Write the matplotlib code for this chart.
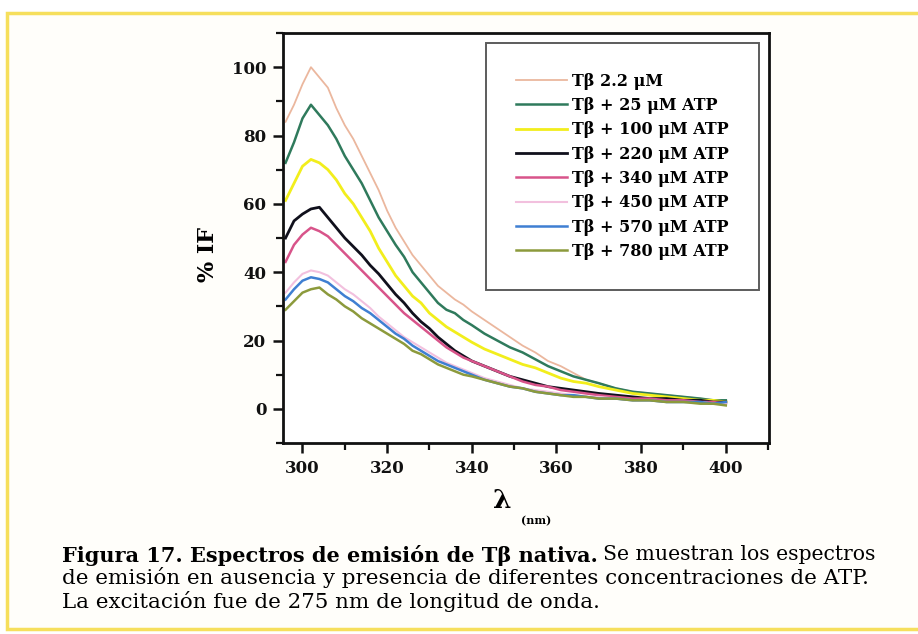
import matplotlib
matplotlib.use("Agg")
import matplotlib.pyplot as plt
from matplotlib.patches import Rectangle
from matplotlib.ticker import MultipleLocator

# Emission wavelengths (nm)
wavelength = [296, 298, 300, 302, 304, 306, 308, 310, 312, 314, 316, 318, 320,
              322, 324, 326, 328, 330, 332, 334, 336, 338, 340, 343, 346, 349,
              352, 355, 358, 361, 364, 367, 370, 374, 378, 382, 386, 390, 394,
              397, 400]

# Relative fluorescence intensity (% IF) for each ATP concentration
if_tb = [84, 89, 95, 100, 97, 94, 88, 83, 79, 74, 69, 64, 58, 53, 49, 45, 42,
         39, 36, 34, 32, 30.5, 28.5, 26, 23.5, 21, 18.5, 16.5, 14, 12.5, 10.5,
         8.5, 7.5, 6, 5, 4.5, 4, 3.5, 3, 2.5, 2]
if_atp25 = [72, 78, 85, 89, 86, 83, 79, 74, 70, 66, 61, 56, 52, 48, 44.5, 40,
            37, 34, 31, 29, 28, 26, 24.5, 22, 20, 18, 16.5, 14.5, 12.5, 11,
            9.5, 8.5, 7.5, 6, 5, 4.5, 4, 3.5, 3, 2.5, 2.5]
if_atp100 = [61, 66, 71, 73, 72, 70, 67, 63, 60, 56, 52, 47, 43, 39, 36, 33,
             31, 28, 26, 24, 22.5, 21, 19.5, 17.5, 16, 14.5, 13, 12, 10.5, 9,
             8, 7.5, 6.5, 5.5, 4.5, 4, 3.5, 3, 2.5, 2.5, 2]
if_atp220 = [50, 55, 57, 58.5, 59, 56, 53, 50, 47.5, 45, 42, 39.5, 36.5, 33.5,
             31, 28, 25.5, 23.5, 21, 19, 17, 15.5, 14, 12.5, 11, 9.5, 8.5,
             7.5, 6.5, 6, 5.5, 5, 4.5, 4, 3.5, 3, 3, 2.5, 2.5, 2, 2]
if_atp340 = [43, 48, 51, 53, 52, 50.5, 48, 45.5, 43, 40.5, 38, 35.5, 33, 30.5,
             28, 26, 24, 22, 20, 18, 16.5, 15, 14, 12.5, 11, 9.5, 8, 7, 6.5,
             5.5, 5, 4.5, 4, 3.5, 3, 3, 2.5, 2.5, 2, 2, 1.5]
if_atp450 = [34, 37, 39.5, 40.5, 40, 39, 37, 35, 33.5, 31.5, 29.5, 27, 25, 23,
             21, 19.5, 18, 16.5, 15, 13.5, 12.5, 11.5, 10.5, 9, 8, 7, 6, 5.5,
             5, 4.5, 4, 3.5, 3.5, 3, 2.5, 2.5, 2, 2, 2, 1.5, 1.5]
if_atp570 = [32, 35, 37.5, 38.5, 38, 37, 35, 33, 31.5, 29.5, 28, 26, 24, 22,
             20.5, 18.5, 17, 15.5, 14, 13, 12, 11, 10, 8.5, 7.5, 6.5, 6, 5,
             4.5, 4, 4, 3.5, 3, 3, 2.5, 2.5, 2, 2, 2, 1.5, 2]
if_atp780 = [29, 31.5, 34, 35, 35.5, 33.5, 32, 30, 28.5, 26.5, 25, 23.5, 22,
             20.5, 19, 17, 16, 14.5, 13, 12, 11, 10, 9.5, 8.5, 7.5, 6.5, 6, 5,
             4.5, 4, 3.5, 3.5, 3, 3, 2.5, 2.5, 2, 2, 1.5, 1.5, 1]

series_labels = ["Tβ 2.2 μM", "Tβ + 25 μM ATP", "Tβ + 100 μM ATP",
                 "Tβ + 220 μM ATP", "Tβ + 340 μM ATP", "Tβ + 450 μM ATP",
                 "Tβ + 570 μM ATP", "Tβ + 780 μM ATP"]
series_values = [if_tb, if_atp25, if_atp100, if_atp220, if_atp340, if_atp450,
                 if_atp570, if_atp780]
series_colors = ["#ebb79e", "#2f7a5c", "#f2ee1c", "#10101c", "#d8548a",
                 "#f2c0de", "#3f7fd2", "#8c9a3c"]
series_widths = [1.3, 1.8, 2.0, 2.0, 1.8, 1.5, 1.8, 1.8]

x_ticks = [300, 320, 340, 360, 380, 400]
y_ticks = [0, 20, 40, 60, 80, 100]

W, H = 918, 634
fig = plt.figure(figsize=(W / 100, H / 100), dpi=100)
fig.patch.set_facecolor("white")


def fx(px):
    return px / W


def fy(py):
    return 1 - py / H


# Yellow frame around the figure and caption
fig.patches.append(Rectangle((fx(7), fy(629)), fx(930) - fx(7), fy(13) - fy(629),
                             transform=fig.transFigure, facecolor="#fffefa",
                             edgecolor="#f6df5c", linewidth=2.5, zorder=-5))

ax = fig.add_axes([fx(283), fy(443), fx(769) - fx(283), fy(33) - fy(443)])
ax.set_facecolor("white")

for vals, lab, col, lw in zip(series_values, series_labels, series_colors,
                              series_widths):
    ax.plot(wavelength, vals, color=col, lw=lw, label=lab)

ax.set_xlim(295.4, 410.2)
ax.set_ylim(-10, 110)
ax.set_xticks(x_ticks)
ax.set_yticks(y_ticks)
ax.xaxis.set_minor_locator(MultipleLocator(10))
ax.yaxis.set_minor_locator(MultipleLocator(10))

tick_font = dict(family="DejaVu Serif", weight="bold", size=12)
ax.set_xticklabels([str(t) for t in x_ticks], **tick_font)
ax.set_yticklabels([str(t) for t in y_ticks], **tick_font)
ax.tick_params(axis="both", which="major", direction="out", length=7,
               width=1.8, pad=5, colors="#111111")
ax.tick_params(axis="both", which="minor", direction="out", length=5,
               width=1.6, colors="#111111")
ax.tick_params(top=False, right=False, which="both")
for sp in ax.spines.values():
    sp.set_linewidth(2.0)
    sp.set_color("#111111")

leg = ax.legend(loc="upper left", bbox_to_anchor=(fx(486), fy(43)),
                bbox_transform=fig.transFigure, frameon=True, fancybox=False,
                prop=dict(family="DejaVu Serif", weight="bold", size=11.5),
                handlelength=3.25, handletextpad=0.3, labelspacing=0.46,
                borderpad=1.85, borderaxespad=0)
leg.get_frame().set_edgecolor("#333333")
leg.get_frame().set_linewidth(1.4)

# Axis titles
fig.text(fx(208), fy(255), "% IF", rotation=90, ha="center", va="center",
         family="DejaVu Serif", weight="bold", fontsize=16)
fig.text(fx(502), fy(500), "λ", ha="center", va="center",
         family="DejaVu Serif", weight="bold", fontsize=19)
fig.text(fx(536), fy(521), "(nm)", ha="center", va="center",
         family="DejaVu Serif", weight="bold", fontsize=8)

# Caption
t1 = fig.text(fx(62), fy(555), "Figura 17. Espectros de emisión de Tβ nativa.",
              ha="left", va="center", family="DejaVu Serif", weight="bold",
              fontsize=15)
fig.canvas.draw()
bb = t1.get_window_extent(fig.canvas.get_renderer())
fig.text(bb.x1 / W + fx(5), fy(555), "Se muestran los espectros",
         ha="left", va="center", family="DejaVu Serif", fontsize=14.7)
fig.text(fx(62), fy(578),
         "de emisión en ausencia y presencia de diferentes concentraciones de ATP.",
         ha="left", va="center", family="DejaVu Serif", fontsize=15.4)
fig.text(fx(62), fy(601), "La excitación fue de 275 nm de longitud de onda.",
         ha="left", va="center", family="DejaVu Serif", fontsize=15.4)

fig.savefig("out.png", dpi=100)
